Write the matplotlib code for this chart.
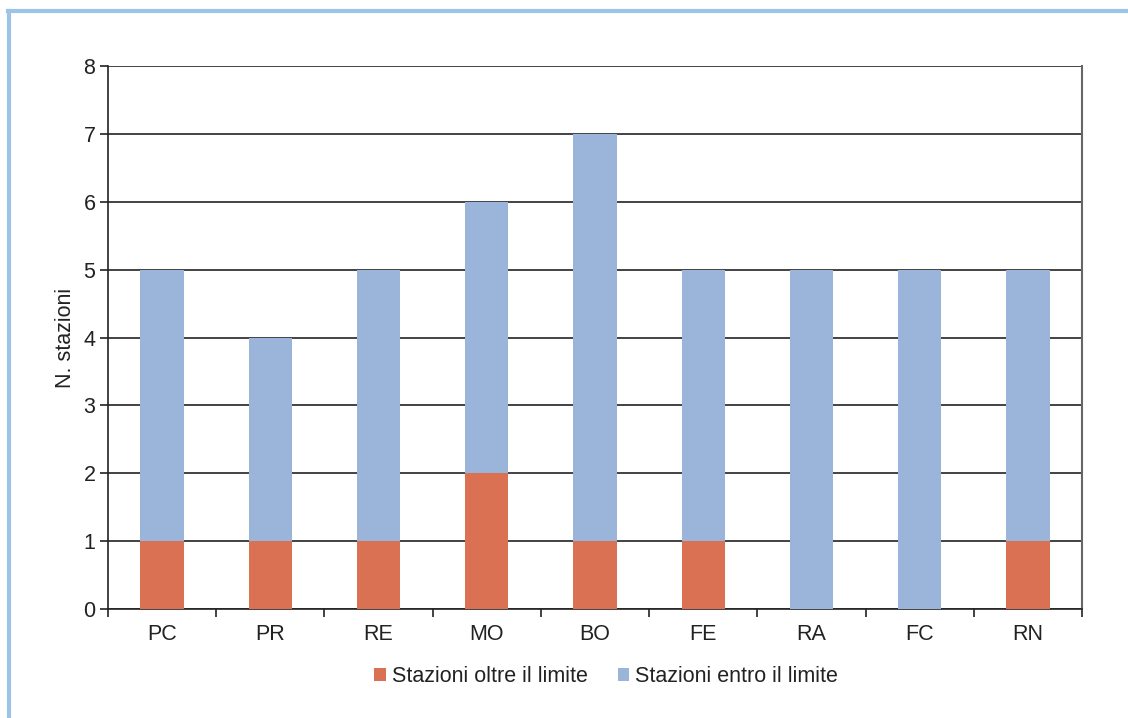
import numpy as np
import matplotlib.pyplot as plt
from matplotlib.lines import Line2D

# data
province = ['PC', 'PR', 'RE', 'MO', 'BO', 'FE', 'RA', 'FC', 'RN']
oltre = [1, 1, 1, 2, 1, 1, 0, 0, 1]
entro = [4, 3, 4, 4, 6, 4, 5, 5, 4]

c_oltre = '#DB7153'
c_entro = '#9BB5DA'

plt.rcParams['font.family'] = ['Liberation Sans', 'DejaVu Sans']
fs = 15.5

fig = plt.figure(figsize=(11.28, 7.18), dpi=100)
ax = fig.add_axes([108 / 1128, 1 - 609 / 718, (1082 - 108) / 1128, (609 - 66) / 718])

x = np.arange(len(province))
ax.bar(x, oltre, width=0.4, color=c_oltre, label='Stazioni oltre il limite', zorder=3)
ax.bar(x, entro, width=0.4, bottom=oltre, color=c_entro, label='Stazioni entro il limite', zorder=3)

ax.set_xlim(-0.5, len(province) - 0.5)
ax.set_ylim(0, 8)
ax.set_yticks(range(0, 9))
ax.yaxis.grid(True, color='#222222', linewidth=1.2)
for g in ax.get_ygridlines():
    g.set_zorder(4)

ax.set_xticks(x)
ax.set_xticklabels(province)
ax.set_xticks(np.arange(-0.5, len(province)), minor=True)
ax.tick_params(axis='x', which='major', length=0, pad=11, labelsize=fs, colors='#222222')
ax.tick_params(axis='x', which='minor', length=6, width=1.2, direction='out', color='#222222')
ax.tick_params(axis='y', length=6, width=1.2, direction='out', labelsize=fs, colors='#222222', pad=3)

for s in ['left', 'bottom']:
    ax.spines[s].set_color('#222222')
    ax.spines[s].set_linewidth(1.2)
ax.spines['top'].set_visible(False)
ax.spines['right'].set_color('#666666')
ax.spines['right'].set_linewidth(1.5)

ax.set_ylabel('N. stazioni', fontsize=fs, color='#222222', labelpad=5)

leg = fig.legend(loc='center', bbox_to_anchor=(606 / 1128, 1 - 677 / 718), ncol=2,
                 frameon=False, fontsize=fs, handlelength=0.55, handleheight=0.55,
                 handletextpad=0.25, columnspacing=1.4)
for t in leg.get_texts():
    t.set_color('#222222')

# frame lines around the box
fig.add_artist(Line2D([9 / 1128, 9 / 1128], [0, 1 - 11 / 718], color='#9DC3E6', linewidth=3))
fig.add_artist(Line2D([8 / 1128, 1], [1 - 11 / 718, 1 - 11 / 718], color='#9DC3E6', linewidth=3))

fig.savefig('out.png', dpi=100)
